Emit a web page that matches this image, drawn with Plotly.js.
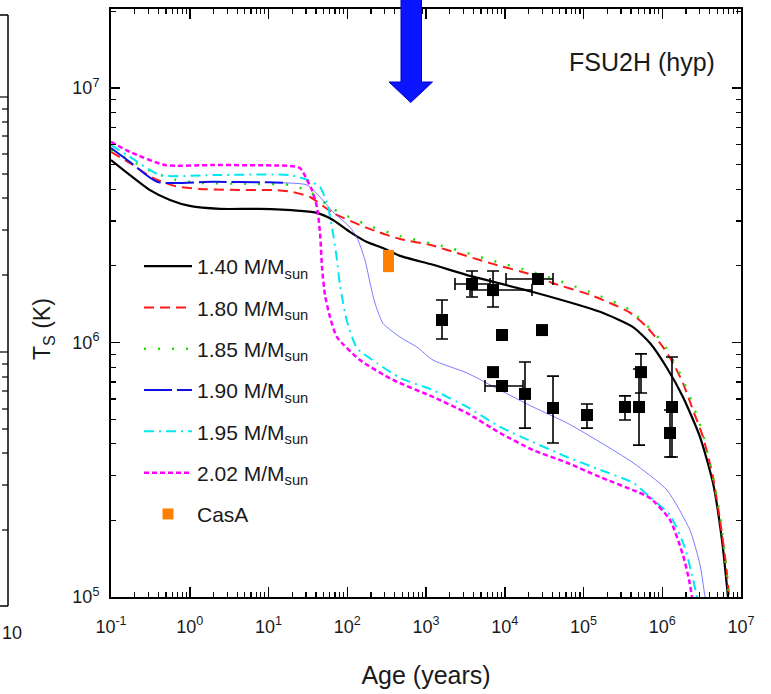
<!DOCTYPE html>
<html><head><meta charset="utf-8">
<script src="https://cdn.plot.ly/plotly-3.0.1.min.js"></script>
<style>html,body{margin:0;padding:0;background:#fff}#chart{width:771px;height:694px}</style>
</head><body><div id="chart"></div>
<script>
const FONT = '"Liberation Sans", Arial, Helvetica, sans-serif';

// ---- cooling curves: age (years) and surface temperature (K) ----
const m140Age = [0.1, 0.174, 0.313, 0.561, 1.0, 2.42, 7.8, 25.1, 41.3, 65.9, 108, 178, 284, 468, 1227, 3319, 22860, 162200, 425600, 698000, 1.148e6, 1.832e6, 3.013e6, 4.406e6, 5.741e6, 6.839e6];
const m140T   = [5.21e6, 4.55e6, 3.97e6, 3.63e6, 3.44e6, 3.35e6, 3.35e6, 3.29e6, 3.23e6, 3.03e6, 2.72e6, 2.48e6, 2.35e6, 2.19e6, 2.02e6, 1.84e6, 1.58e6, 1.32e6, 1.15e6, 9.95e5, 7.94e5, 6.11e5, 4.26e5, 2.81e5, 1.67e5, 1.0e5];

const m180Age = [0.1, 0.174, 0.341, 0.650, 1.35, 5.82, 12.8, 20.5, 33.7, 65.9, 178, 468, 1125, 1849, 6501, 22860, 41020, 121100, 217300, 389000, 639700, 1.023e6, 1.371e6, 1.832e6, 2.455e6, 3.289e6, 4.406e6, 5.408e6, 6.457e6, 7.047e6];
const m180T   = [5.61e6, 5.07e6, 4.43e6, 4.12e6, 4.01e6, 3.97e6, 3.97e6, 3.90e6, 3.73e6, 3.23e6, 2.82e6, 2.55e6, 2.42e6, 2.31e6, 2.05e6, 1.84e6, 1.71e6, 1.54e6, 1.43e6, 1.31e6, 1.15e6, 9.59e5, 8.30e5, 6.93e5, 5.43e5, 4.26e5, 2.96e5, 2.01e5, 1.34e5, 1.0e5];

const m185Age = [0.1, 0.174, 0.341, 0.650, 1.35, 5.82, 18.7, 33.7, 65.9, 178, 468, 1849, 6501, 22860, 121100, 389000, 1.023e6, 1.832e6, 3.289e6, 5.408e6, 7.047e6];
const m185T   = [5.71e6, 5.21e6, 4.68e6, 4.36e6, 4.24e6, 4.20e6, 4.16e6, 3.90e6, 3.35e6, 2.90e6, 2.62e6, 2.37e6, 2.11e6, 1.89e6, 1.58e6, 1.34e6, 9.95e5, 7.13e5, 4.37e5, 2.10e5, 1.0e5];

const m190Age = [0.1, 0.174, 0.384, 2.0, 10, 15.3];
const m190T   = [5.81e6, 5.12e6, 4.28e6, 4.28e6, 4.26e6, 4.24e6];
const m190TailAge = [15.3, 30.8, 45.1, 65.9, 108, 133, 168, 195, 225, 284, 468, 769, 1227, 3319, 8710, 22860, 61660, 162200, 425600, 1.148e6, 2.249e6, 3.013e6, 3.491e6];
const m190TailT   = [4.24e6, 4.16e6, 3.73e6, 3.26e6, 2.84e6, 2.58e6, 2.11e6, 1.71e6, 1.43e6, 1.19e6, 1.05e6, 9.59e5, 8.53e5, 7.59e5, 6.50e5, 5.58e5, 4.83e5, 4.06e5, 3.37e5, 2.63e5, 1.83e5, 1.34e5, 1.0e5];

const m195Age = [0.1, 0.174, 0.419, 2.0, 18.7, 30.8, 45.1, 55.3, 64.0, 74.1, 80.9, 99.3, 133, 239, 468, 1227, 3319, 8710, 22860, 61660, 162200, 425600, 698000, 1.253e6, 1.945e6, 2.388e6, 2.761e6];
const m195T   = [5.97e6, 5.36e6, 4.55e6, 4.55e6, 4.55e6, 4.36e6, 4.08e6, 3.53e6, 2.84e6, 2.11e6, 1.68e6, 1.21e6, 9.51e5, 8.30e5, 7.26e5, 6.50e5, 5.58e5, 4.66e5, 4.06e5, 3.55e5, 3.16e5, 2.81e5, 2.47e5, 2.10e5, 1.56e5, 1.22e5, 1.0e5];

const m202Age = [0.1, 0.174, 0.485, 2.0, 18.7, 25.1, 30.8, 35.6, 41.3, 45.1, 47.8, 52.1, 60.4, 74.1, 145, 381, 1227, 3319, 8710, 22860, 61660, 162200, 425600, 698000, 1.253e6, 1.832e6, 2.188e6, 2.388e6];
const m202T   = [6.14e6, 5.61e6, 4.98e6, 4.98e6, 4.94e6, 4.85e6, 4.36e6, 3.97e6, 3.40e6, 2.69e6, 1.98e6, 1.54e6, 1.26e6, 1.05e6, 8.53e5, 7.13e5, 6.11e5, 5.28e5, 4.41e5, 3.78e5, 3.37e5, 2.96e5, 2.63e5, 2.45e5, 2.01e5, 1.46e5, 1.17e5, 1.0e5];

// ---- observed neutron stars ----
const obsAge     = [1596, 3838, 7096, 26400, 9226, 29700, 7096, 9226, 18070, 41020, 110700, 336500, 507000, 537300, 1330000, 1254000];
const obsAgeLow  = [null, 2335, 3622, 10380, null, null, null, 5610, null, null, null, null, null, null, null, null];
const obsAgeHigh = [null, 6502, 22180, 41020, null, null, null, 17060, null, null, null, null, null, null, null, null];
const obsT       = [1.226e6, 1.698e6, 1.607e6, 1.776e6, 1.070e6, 1.119e6, 7.65e5, 6.745e5, 6.28e5, 5.53e5, 5.19e5, 5.58e5, 5.58e5, 7.65e5, 5.58e5, 4.41e5];
const obsTLow    = [1.032e6, 1.510e6, 1.379e6, null, null, null, null, null, 4.61e5, 4.03e5, 4.61e5, 4.96e5, 3.95e5, 6.33e5, 3.55e5, 3.55e5];
const obsTHigh   = [1.469e6, 1.910e6, 1.910e6, null, null, null, null, null, 8.38e5, 7.38e5, 5.73e5, 6.17e5, 7.87e5, 9.02e5, 8.77e5, 5.43e5];

const casAAge = [334];
const casAT = [2.09e6];
const casATLow = [1.89e6];
const casATHigh = [2.31e6];

// ---- tick labels ----
const xTickVals = [0.1, 1, 10, 100, 1e3, 1e4, 1e5, 1e6, 1e7];
const xTickText = ['10<sup>-1</sup>', '10<sup>0</sup>', '10<sup>1</sup>', '10<sup>2</sup>', '10<sup>3</sup>', '10<sup>4</sup>', '10<sup>5</sup>', '10<sup>6</sup>', '10<sup>7</sup>'];
const yTickVals = [1e5, 1e6, 1e7];
const yTickText = ['10<sup>5</sup>', '10<sup>6</sup>', '10<sup>7</sup>'];
const legendNames = ['1.40 M/M<sub>sun</sub>', '1.80 M/M<sub>sun</sub>', '1.85 M/M<sub>sun</sub>', '1.90 M/M<sub>sun</sub>', '1.95 M/M<sub>sun</sub>', '2.02 M/M<sub>sun</sub>', 'CasA'];

function minorVals(d0, d1, maxV) {
  const out = [];
  for (let d = d0; d <= d1; d++) for (let k = 2; k <= 9; k++) { const v = k * Math.pow(10, d); if (v <= maxV) out.push(v); }
  return out;
}
const up = (hi, v) => hi.map((h, i) => h == null ? undefined : h - v[i]);
const dn = (lo, v) => lo.map((l, i) => l == null ? undefined : v[i] - l);

const traces = [
  {x: m140Age, y: m140T, name: legendNames[0], legendgroup: 'a', mode: 'lines', line: {color: '#000000', width: 2.2, shape: 'spline', smoothing: 0.6}},
  {x: m180Age, y: m180T, name: legendNames[1], legendgroup: 'b', mode: 'lines', line: {color: '#ff1a1a', width: 2, dash: '10px,6px', shape: 'spline', smoothing: 0.6}},
  {x: m185Age, y: m185T, name: legendNames[2], legendgroup: 'c', mode: 'lines', line: {color: '#22dd00', width: 2.4, dash: '2px,12px', shape: 'spline', smoothing: 0.6}},
  {x: m190Age, y: m190T, name: legendNames[3], legendgroup: 'd', mode: 'lines', line: {color: '#1010e8', width: 2, dash: '28px,5px', shape: 'spline', smoothing: 0.6}},
  {x: m190TailAge, y: m190TailT, name: legendNames[3], legendgroup: 'd', showlegend: false, mode: 'lines', line: {color: 'rgba(80,80,255,0.75)', width: 1, shape: 'spline', smoothing: 0.6}},
  {x: m195Age, y: m195T, name: legendNames[4], legendgroup: 'e', mode: 'lines', line: {color: '#00e8f0', width: 2, dash: '10px,5px,2px,5px', shape: 'spline', smoothing: 0.6}},
  {x: m202Age, y: m202T, name: legendNames[5], legendgroup: 'f', mode: 'lines', line: {color: '#ff00ff', width: 2.5, dash: '5px,3px', shape: 'spline', smoothing: 0.6}},
  {x: obsAge, y: obsT, mode: 'markers', showlegend: false, legendgroup: 'h',
   marker: {symbol: 'square', size: 12, color: '#000'},
   error_y: {type: 'data', symmetric: false, array: up(obsTHigh, obsT), arrayminus: dn(obsTLow, obsT), color: '#000', thickness: 1.6, width: 6},
   error_x: {type: 'data', symmetric: false, array: up(obsAgeHigh, obsAge), arrayminus: dn(obsAgeLow, obsAge), color: '#000', thickness: 1.6, width: 6}},
  {x: casAAge, y: casAT, name: legendNames[6], legendgroup: 'g', mode: 'markers',
   marker: {symbol: 'square', size: 11, color: '#ff8000'},
   error_y: {type: 'data', symmetric: false, array: up(casATHigh, casAT), arrayminus: dn(casATLow, casAT), color: '#ff8000', thickness: 11, width: 0}}
];

const axisCommon = {
  type: 'log', tickmode: 'array', ticks: 'inside', tickcolor: '#000', tickwidth: 1.5,
  showline: true, linecolor: '#000', linewidth: 2, mirror: 'ticks', showgrid: false, zeroline: false,
  tickfont: {family: FONT, size: 18, color: '#1a1a1a'}
};

const P = (px) => (px - 111) / 630;   // pixel -> paper x
const Q = (py) => (597 - py) / 588;   // pixel -> paper y

const shapes = [
  // big blue arrow at top
  {type: 'path', xref: 'paper', yref: 'paper', layer: 'above',
   path: `M${P(401)},${Q(-2)} L${P(421.5)},${Q(-2)} L${P(421.5)},${Q(82)} L${P(432.5)},${Q(82)} L${P(410.7)},${Q(102.5)} L${P(389)},${Q(82)} L${P(401)},${Q(82)} Z`,
   fillcolor: '#0a14ff', line: {color: '#0000c8', width: 1}},
  // neighbouring panel edge at far left
  {type: 'line', xref: 'paper', yref: 'paper', x0: P(8), x1: P(8), y0: Q(15), y1: Q(606), line: {color: '#000', width: 1.5}},
  {type: 'line', xref: 'paper', yref: 'paper', x0: P(-2), x1: P(8), y0: Q(15), y1: Q(15), line: {color: '#000', width: 1.5}},
  {type: 'line', xref: 'paper', yref: 'paper', x0: P(-2), x1: P(8), y0: Q(606), y1: Q(606), line: {color: '#000', width: 1.5}}
];
const leftTicks = [97, 109, 122, 136, 154, 174, 198, 230, 275, 352, 364, 377, 391, 409, 429, 453, 485, 530];
leftTicks.forEach((py) => {
  const major = (py === 97 || py === 352);
  shapes.push({type: 'line', xref: 'paper', yref: 'paper', x0: P(major ? -2 : 2), x1: P(8), y0: Q(py), y1: Q(py), line: {color: '#000', width: 1.2}});
});

const layout = {
  width: 771, height: 694,
  margin: {l: 111, r: 30, t: 9, b: 97, pad: 0},
  paper_bgcolor: '#fff', plot_bgcolor: '#fff',
  showlegend: true,
  font: {family: FONT, color: '#1a1a1a'},
  xaxis: Object.assign({}, axisCommon, {
    range: [-1, 7], tickvals: xTickVals, ticktext: xTickText, ticklen: 10, ticklabelstandoff: 12,
    minor: {tickmode: 'array', tickvals: minorVals(-1, 6, 1e7), ticks: 'inside', ticklen: 5, tickwidth: 1.2, tickcolor: '#000', showgrid: false},
    title: {text: 'Age (years)', font: {family: FONT, size: 25, color: '#1a1a1a'}, standoff: 31}
  }),
  yaxis: Object.assign({}, axisCommon, {
    range: [5, 5 + 588 / 254.5], tickvals: yTickVals, ticktext: yTickText, ticklen: 9, ticklabelstandoff: 6,
    minor: {tickmode: 'array', tickvals: minorVals(5, 7, 2.04e7), ticks: 'inside', ticklen: 5, tickwidth: 1.2, tickcolor: '#000', showgrid: false}
  }),
  legend: {x: P(139), y: Q(246), xanchor: 'left', yanchor: 'top', bgcolor: 'rgba(0,0,0,0)', borderwidth: 0,
           itemwidth: 48, traceorder: 'grouped', tracegroupgap: 11, font: {family: FONT, size: 21, color: '#1a1a1a'}},
  annotations: [
    {xref: 'paper', yref: 'paper', x: P(717), y: Q(62), xanchor: 'right', yanchor: 'middle', showarrow: false,
     text: 'FSU2H (hyp)', font: {family: FONT, size: 25, color: '#1a1a1a'}},
    {xref: 'paper', yref: 'paper', x: P(44), y: Q(329), xanchor: 'center', yanchor: 'middle', showarrow: false, textangle: -90,
     text: 'T<sub>S</sub> (K)', font: {family: FONT, size: 23, color: '#1a1a1a'}},
    {xref: 'paper', yref: 'paper', x: P(0), y: Q(633), xanchor: 'left', yanchor: 'middle', showarrow: false,
     text: '10', font: {family: FONT, size: 18, color: '#1a1a1a'}}
  ],
  shapes: shapes
};

Plotly.newPlot('chart', traces, layout, {displayModeBar: false, staticPlot: true});
</script></body></html>
